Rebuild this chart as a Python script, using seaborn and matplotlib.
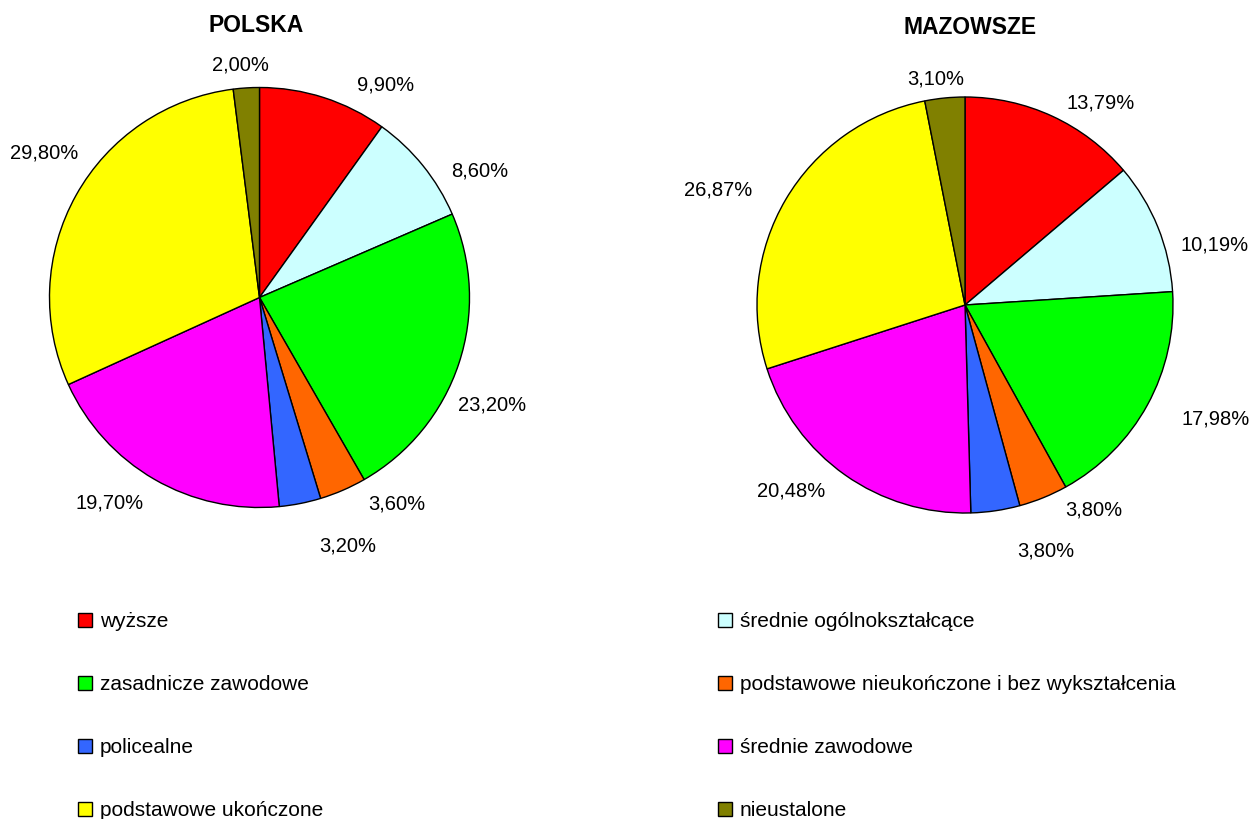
import numpy as np
import matplotlib
matplotlib.use("Agg")
import matplotlib.pyplot as plt
import seaborn as sns

sns.set_style("white")
plt.rcParams['font.family'] = ['Liberation Sans', 'DejaVu Sans']
plt.rcParams['text.color'] = 'black'

# categories (clockwise from 12 o'clock)
categories = ["wyższe", "średnie ogólnokształcące", "zasadnicze zawodowe",
              "podstawowe nieukończone i bez wykształcenia", "policealne",
              "średnie zawodowe", "podstawowe ukończone", "nieustalone"]
polska = [9.90, 8.60, 23.20, 3.60, 3.20, 19.70, 29.80, 2.00]
mazowsze = [13.79, 10.19, 17.98, 3.80, 3.80, 20.48, 26.87, 3.10]
titles = ["POLSKA", "MAZOWSZE"]

colors = ["#FF0000", "#CCFFFF", "#00FF00", "#FF6600",
          "#3366FF", "#FF00FF", "#FFFF00", "#808000"]

# label placement (angle shift in degrees from wedge middle, distance in radii)
polska_shift = [-12.8, -8.9, -6.5, 10.1, 8.5, -6.1, -4.7, 1.2]
polska_dist = [1.178, 1.21, 1.223, 1.182, 1.255, 1.213, 1.233, 1.113]
mazowsze_shift = [-9.0, -8.6, 4.2, 10.0, 9.7, -7.9, 5.5, 1.8]
mazowsze_dist = [1.168, 1.233, 1.326, 1.166, 1.244, 1.223, 1.31, 1.096]

W, H = 1251, 819
fig = plt.figure(figsize=(W / 100, H / 100), dpi=100)


def fmt(v):
    return f"{v:.2f}%".replace(".", ",")


panels = [(polska, titles[0], polska_shift, polska_dist, (259.5, 297.5, 210), (256.5, 25)),
          (mazowsze, titles[1], mazowsze_shift, mazowsze_dist, (965, 305, 208), (970, 28))]

wedges_all = []
for vals, title, shift, dist, (cx, cy, r), (tx, ty) in panels:
    ax = fig.add_axes([(cx - r) / W, 1 - (cy + r) / H, 2 * r / W, 2 * r / H])
    wedges, _ = ax.pie(vals, colors=colors, startangle=90, counterclock=False,
                       wedgeprops=dict(edgecolor="black", linewidth=1))
    for w, v, s, d in zip(wedges, vals, shift, dist):
        w.set_clip_on(False)
        a = np.deg2rad((w.theta1 + w.theta2) / 2 + s)
        ax.text(d * np.cos(a), d * np.sin(a), fmt(v), ha="center", va="center",
                fontsize=14.5)
    ax.set_xlim(-1, 1)
    ax.set_ylim(-1, 1)
    ax.set_aspect("equal")
    ax.axis("off")
    fig.text(tx / W, 1 - ty / H, title, ha="center", va="center",
             fontsize=16.5, fontweight="bold")
    wedges_all = wedges

# legend: two columns, row-major order
for col, x0 in enumerate([78, 718]):
    idx = list(range(col, len(categories), 2))
    fig.legend([wedges_all[i] for i in idx], [categories[i] for i in idx],
               loc="upper left", bbox_to_anchor=(x0 / W, 1 - 612 / H),
               frameon=False, fontsize=15, handlelength=0.67, handleheight=0.67,
               handletextpad=0.38, labelspacing=2.12, borderpad=0, borderaxespad=0)

fig.savefig("out.png", dpi=100)
